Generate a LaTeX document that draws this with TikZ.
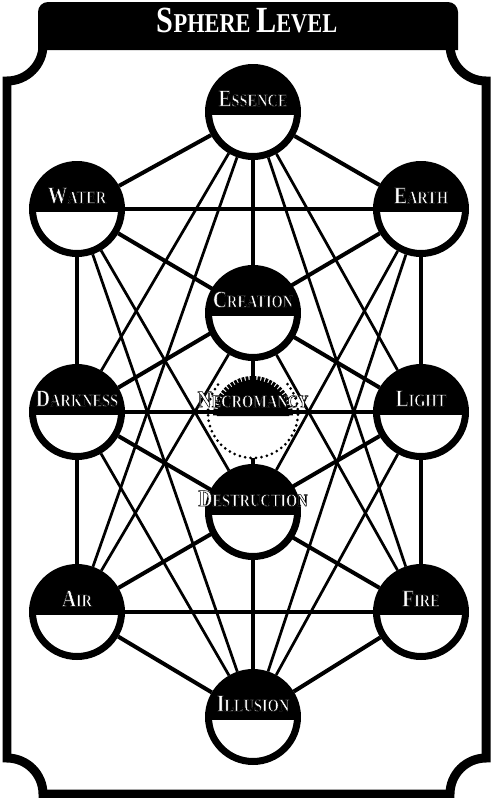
\documentclass[tikz,border=0pt]{standalone}
\usepackage{fontspec}
\usetikzlibrary{backgrounds}
\newfontfamily\cardfont{Liberation Serif}[FakeStretch=0.82]

% white letters with a black rim (fill + stroke text mode)
\newcommand{\outlined}[1]{\special{pdf:bcolor [1] [0]}\special{pdf:literal direct 0.3 w 2 Tr}#1\special{pdf:literal direct 0 Tr}\special{pdf:ecolor}}
\newcommand{\spherename}[2]{\outlined{\fontsize{13.5}{13}\selectfont #1\fontsize{10}{10}\selectfont\MakeUppercase{#2}}}

\begin{document}
\begin{tikzpicture}[
    x=0.02cm, y=-0.02cm,
    sphere/.style={circle, draw=black, line width=0.14cm, fill=white, inner sep=0pt, minimum size=1.78cm,
        path picture={\fill[black] (path picture bounding box.north west) rectangle ([yshift=-0.06cm]path picture bounding box.east);}},
    sphname/.style={font=\cardfont\bfseries, text=white, yshift=0.27cm, inner sep=0pt, draw=none, fill=none},
    link/.style={line width=0.08cm},
    fan/.style={line width=0.055cm}
]
\useasboundingbox (0,0) rectangle (493,798);

% Card frame
\draw[line width=0.18cm] (43,45) arc[start angle=0, end angle=90, radius=36] -- (7,758)
    arc[start angle=-90, end angle=0, radius=36] -- (450,794)
    arc[start angle=180, end angle=270, radius=36] -- (486,81)
    arc[start angle=90, end angle=180, radius=36];
\fill (38,50) -- (38,12) arc[start angle=180, end angle=270, radius=10] -- (448,2)
    arc[start angle=270, end angle=360, radius=10] -- (458,50) -- cycle;
\node[text=white, font=\cardfont\bfseries] (title) at (247,20)
    {\fontsize{21}{21}\selectfont S\fontsize{15.5}{15.5}\selectfont PHERE \fontsize{21}{21}\selectfont L\fontsize{15.5}{15.5}\selectfont EVEL};

% Spheres
\node[sphere, label={[sphname]center:\spherename{E}{ssence}}] (ess) at (253,112) {};
\node[sphere, label={[sphname]center:\spherename{W}{ater}}] (wat) at (77,209) {};
\node[sphere, label={[sphname]center:\spherename{E}{arth}}] (ear) at (421,209) {};
\node[sphere, label={[sphname]center:\spherename{C}{reation}}] (cre) at (253,313) {};
\node[sphere, label={[sphname]center:\spherename{D}{arkness}}] (dar) at (77,412) {};
\node[sphere, label={[sphname]center:\spherename{L}{ight}}] (lig) at (421,412) {};
\node[sphere, label={[sphname]center:\spherename{D}{estruction}}] (des) at (253,512) {};
\node[sphere, label={[sphname]center:\spherename{A}{ir}}] (air) at (77,612) {};
\node[sphere, label={[sphname]center:\spherename{F}{ire}}] (fir) at (421,612) {};
\node[sphere, label={[sphname]center:\spherename{I}{llusion}}] (ill) at (253,717) {};

% Necromancy (hidden sphere)
\node[circle, inner sep=0pt, minimum size=1.8cm,
    path picture={\fill[white] ([yshift=-0.06cm]path picture bounding box.west) rectangle (path picture bounding box.south east);}] (nec) at (253,413) {};
\draw[line width=0.06cm, dash pattern=on 0pt off 0.11cm, line cap=round]
    (nec.center) ++(-40:45) arc[start angle=-40, end angle=220, radius=45];
\fill ([yshift=-0.06cm]nec.center) ++(-36,0) arc[start angle=180, end angle=360, radius=36] -- cycle;
\foreach \a in {3,9,...,177}
    \fill[shift={(253,416)}, rotate=\a] (34,-1.4) rectangle (40,1.4);
\node[sphname] (necname) at (nec.center) {\spherename{N}{ecromancy}};

% Paths
\begin{scope}[on background layer]
\foreach \a/\b in {ess/wat, ess/ear, wat/ear, wat/air, ear/fir, air/fir, air/ill, fir/ill,
                   dar/lig, wat/lig, ear/dar, dar/fir, lig/air, ess/ill}
    \draw[link] (\a) -- (\b);
\foreach \a/\b in {ess/dar, ess/air, ess/lig, ess/fir, ill/dar, ill/wat, ill/lig, ill/ear,
                   wat/des, ear/des, air/cre, fir/cre}
    \draw[fan] (\a) -- (\b);
\end{scope}

\end{tikzpicture}
\end{document}
